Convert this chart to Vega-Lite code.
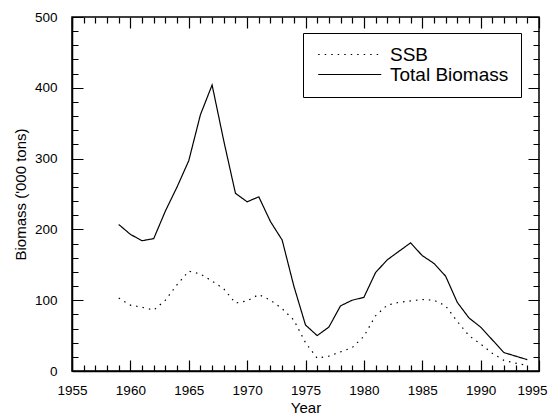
{
  "$schema": "https://vega.github.io/schema/vega-lite/v6.json",
  "width": 467,
  "height": 354,
  "autosize": "none",
  "padding": {"left": 72, "top": 17, "right": 11, "bottom": 49},
  "background": "white",
  "view": {"stroke": "black", "strokeWidth": 1.5, "fill": "white"},
  "config": {
    "font": "Liberation Sans",
    "view": {"stroke": "black", "strokeWidth": 1.5},
    "axis": {
      "domainColor": "black",
      "domainWidth": 1.5,
      "labelColor": "black",
      "titleColor": "black",
      "labelFontSize": 13.5,
      "titleFontSize": 15,
      "titleFontWeight": "normal",
      "labelOverlap": false,
      "labelFlush": false
    }
  },
  "data": {
    "values": [
      {"year": 1959, "series": "Total Biomass", "biomass": 207},
      {"year": 1960, "series": "Total Biomass", "biomass": 193},
      {"year": 1961, "series": "Total Biomass", "biomass": 184},
      {"year": 1962, "series": "Total Biomass", "biomass": 187},
      {"year": 1963, "series": "Total Biomass", "biomass": 226},
      {"year": 1964, "series": "Total Biomass", "biomass": 260},
      {"year": 1965, "series": "Total Biomass", "biomass": 297},
      {"year": 1966, "series": "Total Biomass", "biomass": 362},
      {"year": 1967, "series": "Total Biomass", "biomass": 404},
      {"year": 1968, "series": "Total Biomass", "biomass": 325},
      {"year": 1969, "series": "Total Biomass", "biomass": 251},
      {"year": 1970, "series": "Total Biomass", "biomass": 239},
      {"year": 1971, "series": "Total Biomass", "biomass": 246},
      {"year": 1972, "series": "Total Biomass", "biomass": 211},
      {"year": 1973, "series": "Total Biomass", "biomass": 185},
      {"year": 1974, "series": "Total Biomass", "biomass": 120},
      {"year": 1975, "series": "Total Biomass", "biomass": 65},
      {"year": 1976, "series": "Total Biomass", "biomass": 50},
      {"year": 1977, "series": "Total Biomass", "biomass": 62},
      {"year": 1978, "series": "Total Biomass", "biomass": 92},
      {"year": 1979, "series": "Total Biomass", "biomass": 100},
      {"year": 1980, "series": "Total Biomass", "biomass": 104},
      {"year": 1981, "series": "Total Biomass", "biomass": 139},
      {"year": 1982, "series": "Total Biomass", "biomass": 157},
      {"year": 1983, "series": "Total Biomass", "biomass": 169},
      {"year": 1984, "series": "Total Biomass", "biomass": 181},
      {"year": 1985, "series": "Total Biomass", "biomass": 163},
      {"year": 1986, "series": "Total Biomass", "biomass": 152},
      {"year": 1987, "series": "Total Biomass", "biomass": 134},
      {"year": 1988, "series": "Total Biomass", "biomass": 97},
      {"year": 1989, "series": "Total Biomass", "biomass": 75},
      {"year": 1990, "series": "Total Biomass", "biomass": 62},
      {"year": 1991, "series": "Total Biomass", "biomass": 44},
      {"year": 1992, "series": "Total Biomass", "biomass": 26},
      {"year": 1993, "series": "Total Biomass", "biomass": 21},
      {"year": 1994, "series": "Total Biomass", "biomass": 16},
      {"year": 1959, "series": "SSB", "biomass": 103},
      {"year": 1960, "series": "SSB", "biomass": 93},
      {"year": 1961, "series": "SSB", "biomass": 90},
      {"year": 1962, "series": "SSB", "biomass": 86},
      {"year": 1963, "series": "SSB", "biomass": 100},
      {"year": 1964, "series": "SSB", "biomass": 122},
      {"year": 1965, "series": "SSB", "biomass": 141},
      {"year": 1966, "series": "SSB", "biomass": 137},
      {"year": 1967, "series": "SSB", "biomass": 127},
      {"year": 1968, "series": "SSB", "biomass": 116},
      {"year": 1969, "series": "SSB", "biomass": 96},
      {"year": 1970, "series": "SSB", "biomass": 99},
      {"year": 1971, "series": "SSB", "biomass": 108},
      {"year": 1972, "series": "SSB", "biomass": 100},
      {"year": 1973, "series": "SSB", "biomass": 88},
      {"year": 1974, "series": "SSB", "biomass": 72},
      {"year": 1975, "series": "SSB", "biomass": 40},
      {"year": 1976, "series": "SSB", "biomass": 18},
      {"year": 1977, "series": "SSB", "biomass": 21},
      {"year": 1978, "series": "SSB", "biomass": 27},
      {"year": 1979, "series": "SSB", "biomass": 33},
      {"year": 1980, "series": "SSB", "biomass": 49},
      {"year": 1981, "series": "SSB", "biomass": 78},
      {"year": 1982, "series": "SSB", "biomass": 93},
      {"year": 1983, "series": "SSB", "biomass": 97},
      {"year": 1984, "series": "SSB", "biomass": 99},
      {"year": 1985, "series": "SSB", "biomass": 101},
      {"year": 1986, "series": "SSB", "biomass": 100},
      {"year": 1987, "series": "SSB", "biomass": 92},
      {"year": 1988, "series": "SSB", "biomass": 70},
      {"year": 1989, "series": "SSB", "biomass": 50},
      {"year": 1990, "series": "SSB", "biomass": 38},
      {"year": 1991, "series": "SSB", "biomass": 25},
      {"year": 1992, "series": "SSB", "biomass": 15},
      {"year": 1993, "series": "SSB", "biomass": 11},
      {"year": 1994, "series": "SSB", "biomass": 8}
    ]
  },
  "mark": {"type": "line", "color": "black", "strokeWidth": 1.2},
  "encoding": {
    "x": {
      "field": "year", "type": "quantitative",
      "scale": {"domain": [1955, 1995], "nice": false, "zero": false},
      "axis": {
        "orient": "bottom",
        "title": "Year",
        "values": [1955,1956,1957,1958,1959,1960,1961,1962,1963,1964,1965,1966,1967,1968,1969,1970,1971,1972,1973,1974,1975,1976,1977,1978,1979,1980,1981,1982,1983,1984,1985,1986,1987,1988,1989,1990,1991,1992,1993,1994,1995],
        "format": "d",
        "labelExpr": "datum.value % 5 === 0 ? datum.label : ''",
        "labelOffset": {"condition": {"test": "datum.value === 1995", "value": -7}, "value": 0},
        "ticks": false,
        "grid": true,
        "gridColor": "black",
        "gridOpacity": 1,
        "gridWidth": 1.2,
        "gridDash": {"condition": {"test": "datum.value % 5 === 0", "value": [11, 332, 11, 2000]}, "value": [6, 342, 6, 2000]},
        "labelPadding": 12,
        "titlePadding": 4
      }
    },
    "y": {
      "field": "biomass", "type": "quantitative",
      "scale": {"domain": [0, 500], "nice": false},
      "axis": {
        "orient": "left",
        "title": "Biomass ('000 tons)",
        "values": [0,20,40,60,80,100,120,140,160,180,200,220,240,260,280,300,320,340,360,380,400,420,440,460,480,500],
        "labelExpr": "datum.value % 100 === 0 ? datum.label : ''",
        "ticks": false,
        "grid": true,
        "gridColor": "black",
        "gridOpacity": 1,
        "gridWidth": 1.2,
        "gridDash": {"condition": {"test": "datum.value % 100 === 0", "value": [11, 445, 11, 2000]}, "value": [6, 455, 6, 2000]},
        "labelPadding": 15,
        "titlePadding": 6
      }
    },
    "strokeDash": {
      "field": "series", "type": "nominal",
      "scale": {"domain": ["SSB", "Total Biomass"], "range": [[1.5, 5], [1, 0]]},
      "legend": {
        "orient": "none",
        "legendX": 231,
        "legendY": 16,
        "title": null,
        "symbolType": "M-1,0H9",
        "symbolSize": 159,
        "symbolStrokeColor": "black",
        "symbolStrokeWidth": 1.2,
        "labelFontSize": 19,
        "labelColor": "black",
        "labelOffset": 56,
        "fillColor": "white",
        "strokeColor": "black",
        "padding": 12,
        "rowPadding": 0
      }
    }
  }
}
